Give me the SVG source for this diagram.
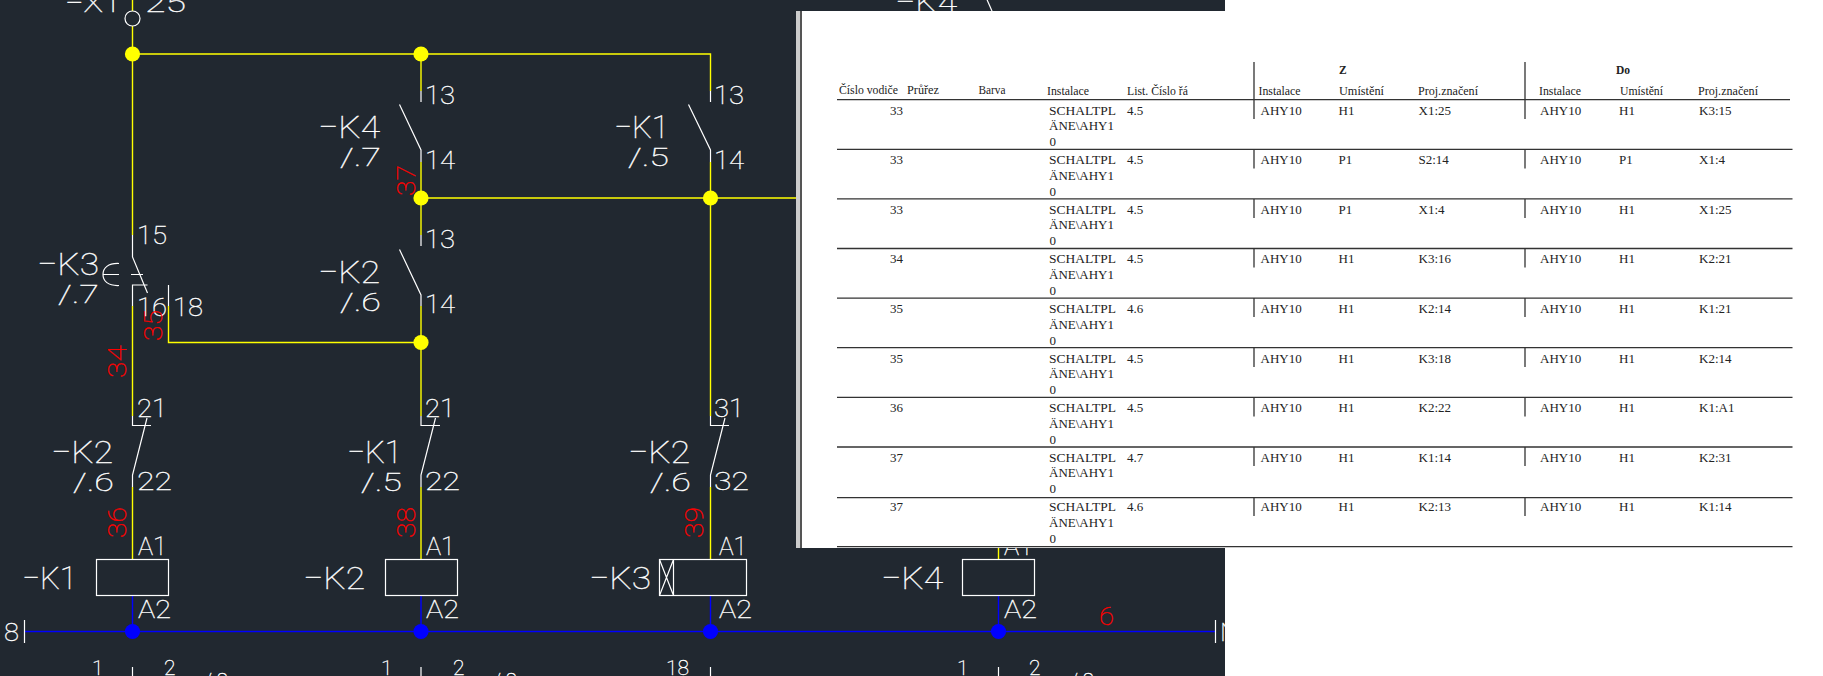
<svg xmlns="http://www.w3.org/2000/svg" width="1823" height="676" viewBox="0 0 1823 676">
<style>
.y{stroke:#ff0;stroke-width:1.4;fill:none}
.b{stroke:#00f;stroke-width:1.4;fill:none}
.c{stroke:#fff;stroke-width:1.2;fill:none}
.yd{fill:#ff0}.bd{fill:#00f}
text{font-family:"Roboto","Liberation Sans",sans-serif}
.s,.m,.l{fill:#fff;font-weight:100;stroke:#fff;stroke-width:.35}
.s{font-size:26.5px}.l{font-size:32px}.m{font-size:21px}
.r{fill:#f00;font-weight:100;font-size:26.5px;stroke:#f00;stroke-width:.35}
.t,.h,.z{font-family:"Liberation Serif","Times New Roman",serif;fill:#222}
.t{font-size:13px}.h{font-size:11.5px}.z{font-size:11.5px;font-weight:bold}
.ln{stroke:#333;stroke-width:1.3}
</style>
<defs>
<g id="tbl-row">
<text x="1049" y="0" class="t" textLength="67" lengthAdjust="spacingAndGlyphs">SCHALTPL</text>
<text x="1049" y="15.5" class="t" textLength="65" lengthAdjust="spacingAndGlyphs">ÄNE\AHY1</text>
<text x="1049.5" y="31.5" class="t">0</text>
<text x="1260.5" y="0" class="t">AHY10</text>
<text x="1540" y="0" class="t">AHY10</text>
</g>
</defs>
<rect id="cad-background" x="0" y="0" width="1225" height="676" fill="#212830"/>
<g id="connectors">
<path class="y" d="M132.5 0V11M132.5 26V235M132.5 306V416M132.5 487V559M132.5 54H710.5V91M421 54V91M421 162V235M421 306V416M421 487V559M710.5 162V416M710.5 487V559M421 198H796M168.5 306V342.5H421M998.5 548V559"/>
<path class="b" d="M25 631.5H1215M132.5 595.5V631.5M421 595.5V631.5M710.5 595.5V631.5M998.5 595.5V631.5"/>
</g>
<g id="junctions">
<circle class="yd" cx="132.5" cy="54" r="7.6"/><circle class="yd" cx="421" cy="54" r="7.6"/>
<circle class="yd" cx="421" cy="198" r="7.6"/><circle class="yd" cx="710.5" cy="198" r="7.6"/>
<circle class="yd" cx="421" cy="342.5" r="7.6"/>
<circle class="bd" cx="132.5" cy="631.5" r="7.6"/><circle class="bd" cx="421" cy="631.5" r="7.6"/>
<circle class="bd" cx="710.5" cy="631.5" r="7.6"/><circle class="bd" cx="998.5" cy="631.5" r="7.6"/>
</g>
<g id="X1-25">
<circle class="c" cx="132.5" cy="18.5" r="7.5"/>
<text class="s" x="65" y="12" textLength="56" lengthAdjust="spacingAndGlyphs">−X1</text>
<text class="s" x="145" y="12" textLength="41" lengthAdjust="spacingAndGlyphs">25</text>
</g>
<g id="K3-15-16-18">
<path class="c" d="M132.5 235V257L147.5 293M132.5 306V285H147.5M168.5 285V306M119 263.5C108 263 103 268 103 274.5S108 286 119 285.5M103 274.5H119M131 274.5H143"/>
<text class="s" x="137" y="243.5" textLength="30" lengthAdjust="spacingAndGlyphs">15</text>
<text class="s" x="137" y="316" textLength="30" lengthAdjust="spacingAndGlyphs">16</text>
<text class="s" x="173" y="316" textLength="30" lengthAdjust="spacingAndGlyphs">18</text>
<text class="l" x="37" y="275" textLength="62" lengthAdjust="spacingAndGlyphs">−K3</text>
<text class="s" x="58" y="303" textLength="41" lengthAdjust="spacingAndGlyphs">/.7</text>
</g>
<g id="K4-13-14">
<path class="c" d="M421 91V102M399.5 104.500L421 150V162"/>
<text class="s" x="425" y="104" textLength="30" lengthAdjust="spacingAndGlyphs">13</text>
<text class="s" x="425" y="168.500" textLength="30" lengthAdjust="spacingAndGlyphs">14</text>
<text class="l" x="318" y="138" textLength="62" lengthAdjust="spacingAndGlyphs">−K4</text>
<text class="s" x="340" y="165.500" textLength="41" lengthAdjust="spacingAndGlyphs">/.7</text>
</g>
<g id="K2-13-14">
<path class="c" d="M421 235V246M399.5 249.500L421 295V306"/>
<text class="s" x="425" y="248" textLength="30" lengthAdjust="spacingAndGlyphs">13</text>
<text class="s" x="425" y="313" textLength="30" lengthAdjust="spacingAndGlyphs">14</text>
<text class="l" x="318" y="283" textLength="62" lengthAdjust="spacingAndGlyphs">−K2</text>
<text class="s" x="340" y="311" textLength="41" lengthAdjust="spacingAndGlyphs">/.6</text>
</g>
<g id="K1-13-14">
<path class="c" d="M710.5 91V102M688.5 104.500L710.5 150V162"/>
<text class="s" x="714" y="104" textLength="30" lengthAdjust="spacingAndGlyphs">13</text>
<text class="s" x="714" y="168.500" textLength="30" lengthAdjust="spacingAndGlyphs">14</text>
<text class="l" x="614" y="138" textLength="55" lengthAdjust="spacingAndGlyphs">−K1</text>
<text class="s" x="628" y="165.500" textLength="41" lengthAdjust="spacingAndGlyphs">/.5</text>
</g>
<g id="K2-21-22">
<path class="c" d="M132.500 416V425.500H151M147 418L132.500 475V487"/>
<text class="s" x="137" y="417" textLength="30" lengthAdjust="spacingAndGlyphs">21</text>
<text class="s" x="137" y="490" textLength="35" lengthAdjust="spacingAndGlyphs">22</text>
<text class="l" x="51" y="463" textLength="62" lengthAdjust="spacingAndGlyphs">−K2</text>
<text class="s" x="73" y="491" textLength="41" lengthAdjust="spacingAndGlyphs">/.6</text>
</g>
<g id="K1-21-22">
<path class="c" d="M421 416V425.500H440M435.500 418L421 475V487"/>
<text class="s" x="425" y="417" textLength="30" lengthAdjust="spacingAndGlyphs">21</text>
<text class="s" x="425" y="490" textLength="35" lengthAdjust="spacingAndGlyphs">22</text>
<text class="l" x="347" y="463" textLength="55" lengthAdjust="spacingAndGlyphs">−K1</text>
<text class="s" x="361" y="491" textLength="41" lengthAdjust="spacingAndGlyphs">/.5</text>
</g>
<g id="K2-31-32">
<path class="c" d="M710.500 416V425.500H729M725 418L710.500 475V487"/>
<text class="s" x="714" y="417" textLength="30" lengthAdjust="spacingAndGlyphs">31</text>
<text class="s" x="714" y="490" textLength="35" lengthAdjust="spacingAndGlyphs">32</text>
<text class="l" x="628" y="463" textLength="62" lengthAdjust="spacingAndGlyphs">−K2</text>
<text class="s" x="650" y="491" textLength="41" lengthAdjust="spacingAndGlyphs">/.6</text>
</g>
<g id="coil-K1">
<rect class="c" x="96.500" y="559.500" width="72" height="36"/>
<text class="s" x="138" y="555" textLength="29" lengthAdjust="spacingAndGlyphs">A1</text>
<text class="s" x="138" y="618" textLength="33" lengthAdjust="spacingAndGlyphs">A2</text>
<text class="l" x="22" y="589" textLength="55" lengthAdjust="spacingAndGlyphs">−K1</text>
</g>
<g id="coil-K2">
<rect class="c" x="385.500" y="559.500" width="72" height="36"/>
<text class="s" x="426" y="555" textLength="29" lengthAdjust="spacingAndGlyphs">A1</text>
<text class="s" x="426" y="618" textLength="33" lengthAdjust="spacingAndGlyphs">A2</text>
<text class="l" x="303" y="589" textLength="62" lengthAdjust="spacingAndGlyphs">−K2</text>
</g>
<g id="coil-K3">
<rect class="c" x="659.500" y="559.500" width="87" height="36"/>
<path class="c" d="M673.500 559.500V595.500M659.500 559.500L673.500 595.500M673.500 559.500L659.500 595.500"/>
<text class="s" x="719" y="555" textLength="28" lengthAdjust="spacingAndGlyphs">A1</text>
<text class="s" x="719" y="618" textLength="33" lengthAdjust="spacingAndGlyphs">A2</text>
<text class="l" x="589" y="589" textLength="62" lengthAdjust="spacingAndGlyphs">−K3</text>
</g>
<g id="coil-K4">
<rect class="c" x="962.500" y="559.500" width="72" height="36"/>
<text class="s" x="1004" y="555" textLength="29" lengthAdjust="spacingAndGlyphs">A1</text>
<text class="s" x="1004" y="618" textLength="33" lengthAdjust="spacingAndGlyphs">A2</text>
<text class="l" x="881" y="589" textLength="62" lengthAdjust="spacingAndGlyphs">−K4</text>
</g>
<g id="top-K4">
<path class="c" d="M985 -5L992 11"/>
<text class="l" x="895" y="12.500" textLength="62" lengthAdjust="spacingAndGlyphs">−K4</text>
</g>
<g id="bus-ends">
<path class="c" d="M24.500 620V643M1215.500 620V643"/>
<text class="s" x="4" y="640.500" textLength="15" lengthAdjust="spacingAndGlyphs">8</text>
<text class="s" x="1220" y="641">N</text>
</g>
<g id="wire-numbers">
<text class="r" transform="translate(126 378) rotate(-90)" textLength="33" lengthAdjust="spacingAndGlyphs">34</text>
<text class="r" transform="translate(162 341) rotate(-90)" textLength="31" lengthAdjust="spacingAndGlyphs">35</text>
<text class="r" transform="translate(415 196) rotate(-90)" textLength="31" lengthAdjust="spacingAndGlyphs">37</text>
<text class="r" transform="translate(126 538) rotate(-90)" textLength="31" lengthAdjust="spacingAndGlyphs">36</text>
<text class="r" transform="translate(415 538) rotate(-90)" textLength="31" lengthAdjust="spacingAndGlyphs">38</text>
<text class="r" transform="translate(703 538) rotate(-90)" textLength="31" lengthAdjust="spacingAndGlyphs">39</text>
<text class="r" x="1099" y="625" textLength="15" lengthAdjust="spacingAndGlyphs">6</text>
</g>
<g id="bottom-references">
<path class="c" d="M132.500 667V676M421 667V676M710.500 667V676M998.500 667V676"/>
<text class="m" x="92" y="675">1</text><text class="m" x="164" y="675">2</text>
<text class="m" x="204" y="688">/.8</text>
<text class="m" x="381" y="675">1</text><text class="m" x="453" y="675">2</text>
<text class="m" x="493" y="688">/.8</text>
<text class="m" x="666" y="675">18</text>
<text class="m" x="957" y="675">1</text><text class="m" x="1029" y="675">2</text>
<text class="m" x="1070" y="688">/.8</text>
</g>
<g id="table-sheet">
<rect x="796" y="11" width="1027" height="537" fill="#ccc"/>
<rect x="800" y="11" width="2" height="537" fill="#555"/>
<rect x="802" y="11" width="1021" height="537" fill="#fff"/>
<rect x="1225" y="0" width="598" height="676" fill="#fff"/>
</g>
<g id="table-lines">
<path class="ln" d="M837 99.700H1790M837 149.300H1792.500M837 198.900H1792.500M837 248.500H1792.500M837 298.100H1792.500M837 347.700H1792.500M837 397.300H1792.500M837 447H1792.500M837 497.700H1792.500M837 546.700H1792.500"/>
<path class="ln" d="M1254 62V119M1525 62V119M1254 149.300V168.500M1525 149.300V168.500M1254 198.900V218M1525 198.900V218M1254 248.500V267.500M1525 248.500V267.500M1254 298.100V317M1525 298.100V317M1254 347.700V367M1525 347.700V367M1254 397.300V416.500M1525 397.300V416.500M1254 447V466M1525 447V466M1254 497.700V516M1525 497.700V516"/>
</g>
<g id="table-header">
<text class="z" x="1339" y="74">Z</text><text class="z" x="1616" y="74">Do</text>
<text class="h" x="839" y="94" textLength="59" lengthAdjust="spacingAndGlyphs">Číslo vodiče</text>
<text class="h" x="907" y="94" textLength="32" lengthAdjust="spacingAndGlyphs">Průřez</text>
<text class="h" x="978.500" y="94" textLength="27" lengthAdjust="spacingAndGlyphs">Barva</text>
<text class="h" x="1047" y="95" textLength="42" lengthAdjust="spacingAndGlyphs">Instalace</text>
<text class="h" x="1127" y="95" textLength="61" lengthAdjust="spacingAndGlyphs">List. Číslo řá</text>
<text class="h" x="1258.500" y="95" textLength="42" lengthAdjust="spacingAndGlyphs">Instalace</text>
<text class="h" x="1339" y="95" textLength="45" lengthAdjust="spacingAndGlyphs">Umístění</text>
<text class="h" x="1418" y="95" textLength="60" lengthAdjust="spacingAndGlyphs">Proj.značení</text>
<text class="h" x="1539" y="95" textLength="42" lengthAdjust="spacingAndGlyphs">Instalace</text>
<text class="h" x="1620" y="95" textLength="43" lengthAdjust="spacingAndGlyphs">Umístění</text>
<text class="h" x="1698" y="95" textLength="60" lengthAdjust="spacingAndGlyphs">Proj.značení</text>
</g>
<g id="row-1"><use href="#tbl-row" y="114.500"/><text class="t" x="890" y="114.500">33</text><text class="t" x="1127" y="114.500">4.5</text><text class="t" x="1338.500" y="114.500">H1</text><text class="t" x="1418.500" y="114.500">X1:25</text><text class="t" x="1619" y="114.500">H1</text><text class="t" x="1699" y="114.500">K3:15</text></g>
<g id="row-2"><use href="#tbl-row" y="164"/><text class="t" x="890" y="164">33</text><text class="t" x="1127" y="164">4.5</text><text class="t" x="1338.500" y="164">P1</text><text class="t" x="1418.500" y="164">S2:14</text><text class="t" x="1619" y="164">P1</text><text class="t" x="1699" y="164">X1:4</text></g>
<g id="row-3"><use href="#tbl-row" y="213.500"/><text class="t" x="890" y="213.500">33</text><text class="t" x="1127" y="213.500">4.5</text><text class="t" x="1338.500" y="213.500">P1</text><text class="t" x="1418.500" y="213.500">X1:4</text><text class="t" x="1619" y="213.500">H1</text><text class="t" x="1699" y="213.500">X1:25</text></g>
<g id="row-4"><use href="#tbl-row" y="263"/><text class="t" x="890" y="263">34</text><text class="t" x="1127" y="263">4.5</text><text class="t" x="1338.500" y="263">H1</text><text class="t" x="1418.500" y="263">K3:16</text><text class="t" x="1619" y="263">H1</text><text class="t" x="1699" y="263">K2:21</text></g>
<g id="row-5"><use href="#tbl-row" y="313"/><text class="t" x="890" y="313">35</text><text class="t" x="1127" y="313">4.6</text><text class="t" x="1338.500" y="313">H1</text><text class="t" x="1418.500" y="313">K2:14</text><text class="t" x="1619" y="313">H1</text><text class="t" x="1699" y="313">K1:21</text></g>
<g id="row-6"><use href="#tbl-row" y="362.500"/><text class="t" x="890" y="362.500">35</text><text class="t" x="1127" y="362.500">4.5</text><text class="t" x="1338.500" y="362.500">H1</text><text class="t" x="1418.500" y="362.500">K3:18</text><text class="t" x="1619" y="362.500">H1</text><text class="t" x="1699" y="362.500">K2:14</text></g>
<g id="row-7"><use href="#tbl-row" y="412"/><text class="t" x="890" y="412">36</text><text class="t" x="1127" y="412">4.5</text><text class="t" x="1338.500" y="412">H1</text><text class="t" x="1418.500" y="412">K2:22</text><text class="t" x="1619" y="412">H1</text><text class="t" x="1699" y="412">K1:A1</text></g>
<g id="row-8"><use href="#tbl-row" y="461.500"/><text class="t" x="890" y="461.500">37</text><text class="t" x="1127" y="461.500">4.7</text><text class="t" x="1338.500" y="461.500">H1</text><text class="t" x="1418.500" y="461.500">K1:14</text><text class="t" x="1619" y="461.500">H1</text><text class="t" x="1699" y="461.500">K2:31</text></g>
<g id="row-9"><use href="#tbl-row" y="511"/><text class="t" x="890" y="511">37</text><text class="t" x="1127" y="511">4.6</text><text class="t" x="1338.500" y="511">H1</text><text class="t" x="1418.500" y="511">K2:13</text><text class="t" x="1619" y="511">H1</text><text class="t" x="1699" y="511">K1:14</text></g>
</svg>
